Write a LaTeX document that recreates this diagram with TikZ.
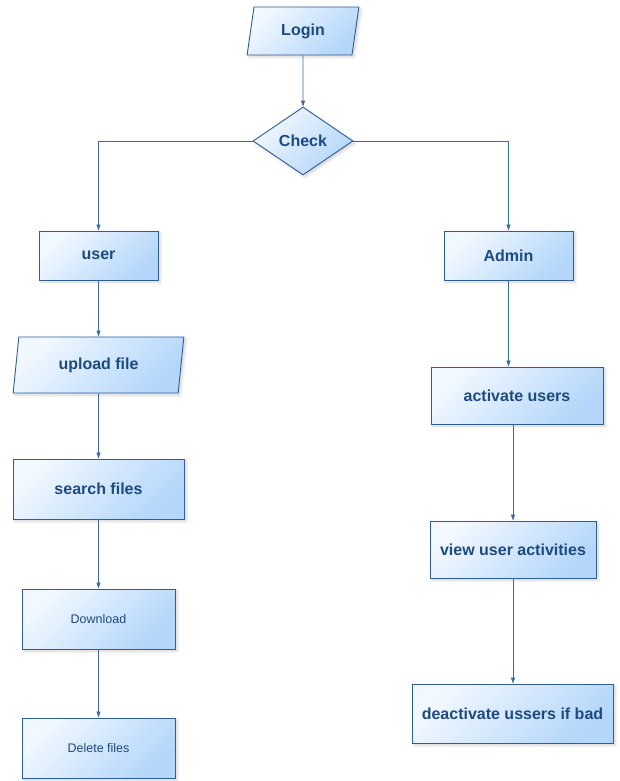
\documentclass[tikz,border=0pt]{standalone}
\usepackage{fontspec}
\setmainfont{Liberation Sans}
\usetikzlibrary{shapes.geometric,shadows.blur,arrows.meta}

\definecolor{boxline}{HTML}{2E5E93}
\definecolor{boxtext}{HTML}{1D4A80}
\definecolor{fillhi}{HTML}{F2F8FF}
\definecolor{filllo}{HTML}{B3D6FA}
\definecolor{wire}{HTML}{3E6A9C}

\tikzset{
  base/.style={draw=boxline, line width=0.9pt, text=boxtext, inner sep=2pt,
    top color=fillhi, bottom color=filllo, shading angle=45,
    blur shadow={shadow xshift=2pt, shadow yshift=-2pt, shadow blur steps=6,
      shadow opacity=18, shadow blur radius=3pt}},
  boldtxt/.style={font=\fontsize{16}{18}\selectfont\bfseries},
  plaintxt/.style={font=\fontsize{12.5}{14}\selectfont},
  box/.style={base, rectangle, boldtxt},
  smallbox/.style={base, rectangle, plaintxt},
  para/.style={base, boldtxt, trapezium, trapezium left angle=#1,
    trapezium right angle={180-#1}, trapezium stretches=true},
  decide/.style={base, boldtxt, diamond, aspect=1.47},
  wirearrow/.style={draw=wire, line width=0.8pt,
    -{Triangle[length=6pt, width=4pt]}},
}

\begin{document}
\begin{tikzpicture}[x=1pt, y=-1pt]
\useasboundingbox (0,0) rectangle (619,781);

% start and decision
\node[para=80, minimum width=112, minimum height=48] (login) at (303,31) {Login};
\node[decide, minimum width=100, minimum height=68] (check) at (303,141) {Check};

% user branch
\node[box, minimum width=119, minimum height=49] (user) at (98.5,255.5) {user};
\node[para=81, minimum width=171, minimum height=56] (upload) at (98.5,365) {upload file};
\node[box, minimum width=171, minimum height=60] (search) at (98.5,489) {search files};
\node[smallbox, minimum width=153, minimum height=60] (download) at (98.5,619) {Download};
\node[smallbox, minimum width=153, minimum height=60] (delete) at (98.5,748) {Delete files};

% admin branch
\node[box, minimum width=129, minimum height=49] (admin) at (508.5,255.5) {Admin};
\node[box, minimum width=172, minimum height=57] (activate) at (517,395.5) {activate users};
\node[box, minimum width=166, minimum height=57] (view) at (513,549.5) {view user activities};
\node[box, minimum width=201, minimum height=59] (deact) at (512.5,713.5) {deactivate ussers if bad};

% connectors
\draw[wirearrow] (login) -- (check);
\draw[wirearrow] (check.west) -| (user.north);
\draw[wirearrow] (check.east) -| (admin.north);
\draw[wirearrow] (user) -- (upload);
\draw[wirearrow] (upload) -- (search);
\draw[wirearrow] (search) -- (download);
\draw[wirearrow] (download) -- (delete);
\draw[wirearrow] (admin.south) -- (admin.south |- activate.north);
\draw[wirearrow] (view.north |- activate.south) -- (view.north);
\draw[wirearrow] (view.south) -- (view.south |- deact.north);
\end{tikzpicture}
\end{document}
